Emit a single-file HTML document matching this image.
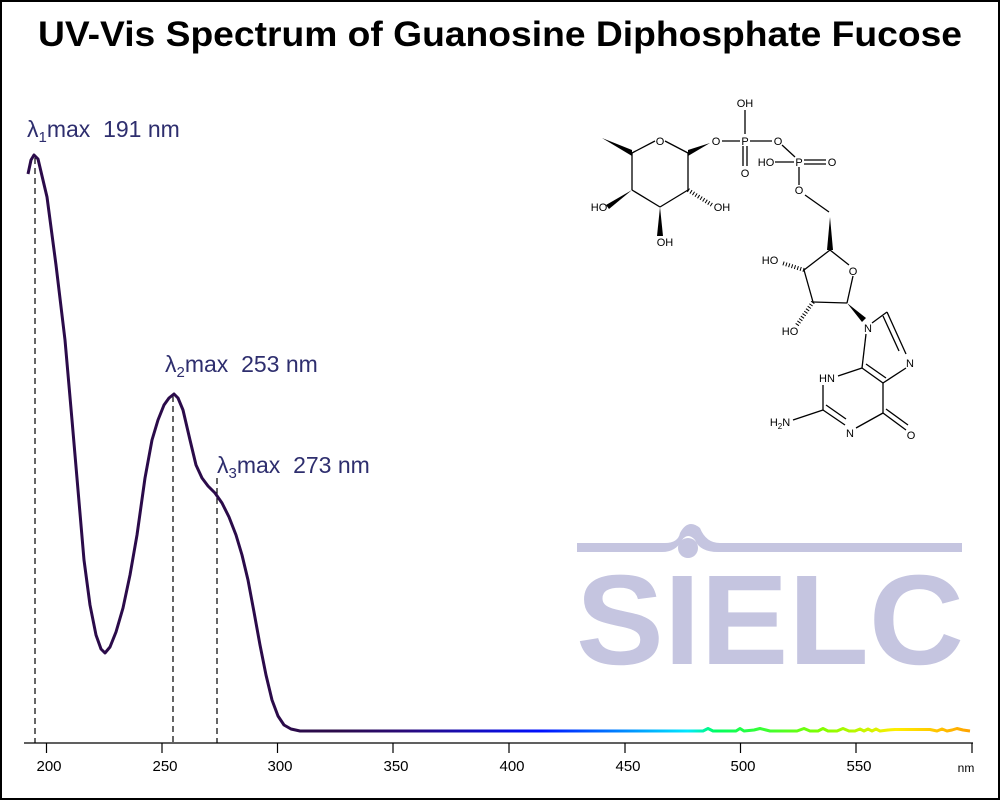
<!DOCTYPE html>
<html><head><meta charset="utf-8"><style>
html,body{margin:0;padding:0;background:#fff;}
svg{display:block;}
</style></head><body>
<svg width="1000" height="800" viewBox="0 0 1000 800" xmlns="http://www.w3.org/2000/svg" font-family="Liberation Sans, sans-serif">
<defs>
<linearGradient id="sp" gradientUnits="userSpaceOnUse" x1="24" y1="0" x2="972" y2="0">
<stop offset="0" stop-color="#2b0b4a"/>
<stop offset="0.33" stop-color="#2b0b4a"/>
<stop offset="0.40" stop-color="#2a0a78"/>
<stop offset="0.545" stop-color="#0010ff"/>
<stop offset="0.70" stop-color="#00e8ff"/>
<stop offset="0.73" stop-color="#00ff60"/>
<stop offset="0.84" stop-color="#80ff00"/>
<stop offset="0.92" stop-color="#ffee00"/>
<stop offset="1" stop-color="#ffa000"/>
</linearGradient>
</defs>
<rect x="1" y="1" width="998" height="798" fill="#fff" stroke="#000" stroke-width="2"/>
<text x="38" y="46" font-size="35" font-weight="bold" textLength="924" lengthAdjust="spacingAndGlyphs">UV-Vis Spectrum of Guanosine Diphosphate Fucose</text>

<!-- SIELC watermark -->
<g fill="#c5c5e0">
<path d="M577,543 L665,543 Q678,543 680,533 Q688,518 700,528 Q706,543 720,543 L962,543 L962,552 L718,552 Q700,552 695,540 Q688,532 682,540 Q676,552 662,552 L577,552 Z"/>
<circle cx="688" cy="548" r="10"/>
<text x="576" y="664" font-size="128" font-weight="bold" textLength="388" lengthAdjust="spacingAndGlyphs">SIELC</text>
</g>

<!-- axis -->
<g stroke="#000" stroke-width="1.2">
<line x1="24" y1="743" x2="973" y2="743"/>
<line x1="46.5" y1="743" x2="46.5" y2="753"/>
<line x1="162" y1="743" x2="162" y2="753"/>
<line x1="277.5" y1="743" x2="277.5" y2="753"/>
<line x1="393" y1="743" x2="393" y2="753"/>
<line x1="509" y1="743" x2="509" y2="753"/>
<line x1="625" y1="743" x2="625" y2="753"/>
<line x1="740.5" y1="743" x2="740.5" y2="753"/>
<line x1="856" y1="743" x2="856" y2="753"/>
<line x1="972" y1="743" x2="972" y2="753"/>
</g>
<g font-size="15" text-anchor="middle" fill="#000">
<text x="49" y="771">200</text><text x="165" y="771">250</text><text x="280" y="771">300</text>
<text x="396" y="771">350</text><text x="512" y="771">400</text><text x="628" y="771">450</text>
<text x="743" y="771">500</text><text x="859" y="771">550</text>
<text x="966" y="772" font-size="12">nm</text>
</g>

<!-- dashed lines -->
<g stroke="#000" stroke-width="1.2" stroke-dasharray="6,4">
<line x1="35" y1="158" x2="35" y2="743"/>
<line x1="173" y1="396" x2="173" y2="743"/>
<line x1="217" y1="478" x2="217" y2="743"/>
</g>

<!-- spectrum -->
<path fill="none" stroke="url(#sp)" stroke-width="3" stroke-linejoin="round" d="M28,174 L31,160 L34,155 L38,159 L47,197 L56,265 L65,340 L72,420 L78,490 L84,560 L90,605 L96,635 L101,649 L105,653 L110,647 L116,632 L123,608 L130,575 L137,535 L145,478 L152,440 L158,420 L164,405 L169,398 L174,394 L178,398 L183,410 L190,440 L196,465 L202,478 L208,486 L215,493 L222,503 L229,517 L236,535 L242,555 L248,580 L254,612 L260,645 L266,675 L272,700 L278,716 L284,725 L291,729 L300,731 L703,731 L708,728.5 L713,731 L736,731 L740,728.5 L744,731 L754,730 L760,728.5 L766,730 L770,731 L797,731 L804,728.5 L810,731 L818,731 L823,728.5 L828,731 L837,731 L843,728.5 L849,731 L855,731 L860,729 L864,731 L868,729 L872,731 L876,729 L880,731 L888,730 L895,729.5 L930,729.5 L937,731 L942,729 L947,731 L952,730 L957,728.5 L963,730 L970,731"/>

<!-- labels -->
<g fill="#2e2e6e" font-size="23">
<text x="27" y="137" xml:space="preserve">λ<tspan font-size="15" dy="5">1</tspan><tspan dy="-5">max  191 nm</tspan></text>
<text x="165" y="372" xml:space="preserve">λ<tspan font-size="15" dy="5">2</tspan><tspan dy="-5">max  253 nm</tspan></text>
<text x="217" y="473" xml:space="preserve">λ<tspan font-size="15" dy="5">3</tspan><tspan dy="-5">max  273 nm</tspan></text>
</g>

<!-- molecule -->
<g stroke="#000" stroke-width="1.3" fill="none">
<line x1="632" y1="153" x2="655" y2="141"/>
<line x1="665" y1="141" x2="688" y2="153"/>
<line x1="688" y1="153" x2="688" y2="190"/>
<line x1="688" y1="190" x2="660" y2="207"/>
<line x1="660" y1="207" x2="632" y2="190"/>
<line x1="632" y1="190" x2="632" y2="153"/>
<line x1="722" y1="141" x2="740" y2="141"/>
<line x1="750" y1="141" x2="772" y2="141"/>
<line x1="745" y1="134" x2="745" y2="110"/>
<line x1="743" y1="146" x2="743" y2="166"/>
<line x1="747" y1="146" x2="747" y2="166"/>
<line x1="782" y1="145" x2="795" y2="157"/>
<line x1="775" y1="162" x2="794" y2="162"/>
<line x1="804" y1="160" x2="826" y2="160"/>
<line x1="804" y1="164" x2="826" y2="164"/>
<line x1="799" y1="167" x2="799" y2="185"/>
<line x1="805" y1="195" x2="829" y2="212"/>
<line x1="830" y1="250" x2="849" y2="265"/>
<line x1="853" y1="276" x2="847" y2="303"/>
<line x1="847" y1="303" x2="813" y2="302"/>
<line x1="813" y1="302" x2="804" y2="270"/>
<line x1="804" y1="270" x2="830" y2="250"/>
<line x1="872" y1="323" x2="887" y2="312"/>
<line x1="887" y1="312" x2="906" y2="354"/>
<line x1="883" y1="316" x2="899" y2="351"/>
<line x1="906" y1="368" x2="883" y2="383"/>
<line x1="883" y1="383" x2="862" y2="368"/>
<line x1="886" y1="378" x2="866" y2="364"/>
<line x1="862" y1="368" x2="866" y2="334"/>
<line x1="883" y1="383" x2="883" y2="413"/>
<line x1="883" y1="413" x2="856" y2="428"/>
<line x1="883" y1="413" x2="906" y2="430"/>
<line x1="886" y1="409" x2="908" y2="425"/>
<line x1="862" y1="368" x2="838" y2="376"/>
<line x1="823" y1="385" x2="823" y2="410"/>
<line x1="823" y1="410" x2="845" y2="425"/>
<line x1="826" y1="405" x2="846" y2="419"/>
<line x1="823" y1="410" x2="793" y2="420"/>
</g>
<g fill="#000">
<polygon points="602,138 632,150 632,156"/>
<polygon points="688,150 688,156 710,143"/>
<polygon points="632,190 606,205 609,209"/>
<polygon points="660,207 657,236 663,236"/>
<polygon points="830,217 827,250 833,250"/>
<polygon points="847,303 862,322 866,318"/>
</g>
<g stroke="#000" stroke-width="1">
<line x1="688" y1="190" x2="712" y2="205" stroke-dasharray="1,2" stroke-width="4"/>
<line x1="804" y1="270" x2="782" y2="263" stroke-dasharray="1,2" stroke-width="4"/>
<line x1="813" y1="302" x2="797" y2="325" stroke-dasharray="1,2" stroke-width="4"/>
</g>
<g font-size="11" fill="#000" text-anchor="middle">
<text x="660" y="145">O</text><text x="716" y="145">O</text><text x="745" y="145">P</text>
<text x="745" y="107">OH</text><text x="745" y="177">O</text><text x="778" y="145">O</text>
<text x="799" y="166">P</text><text x="766" y="166">HO</text><text x="832" y="166">O</text>
<text x="799" y="194">O</text>
<text x="599" y="211">HO</text><text x="722" y="211">OH</text><text x="665" y="246">OH</text>
<text x="853" y="275">O</text><text x="770" y="264">HO</text><text x="790" y="335">HO</text>
<text x="868" y="332">N</text><text x="910" y="367">N</text><text x="827" y="382">HN</text>
<text x="850" y="437">N</text><text x="911" y="439">O</text>
<text x="780" y="426">H<tspan font-size="8" dy="3">2</tspan><tspan dy="-3">N</tspan></text>
</g>
</svg>
</body></html>
